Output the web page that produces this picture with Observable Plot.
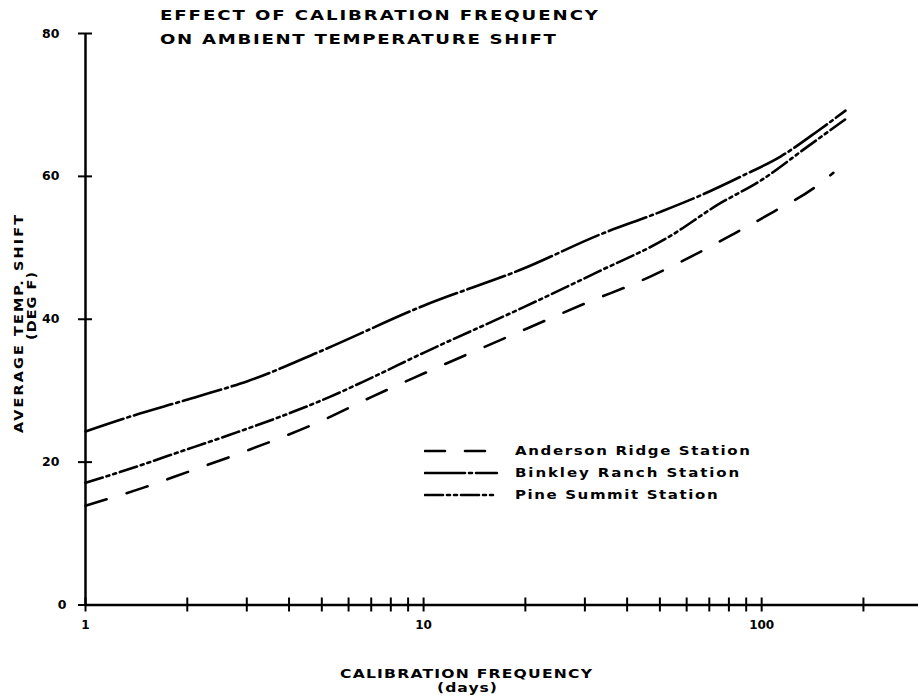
<!DOCTYPE html>
<html>
<head>
<meta charset="utf-8">
<script src="https://cdn.jsdelivr.net/npm/d3@7"></script>
<script src="https://cdn.jsdelivr.net/npm/@observablehq/plot@0.6"></script>
<style>
  body { margin: 0; background: #fff; }
  #wrap { position: relative; width: 918px; height: 696px; font-family: "DejaVu Sans", sans-serif; font-weight: bold; color: #000; overflow: hidden; }
  .abs { position: absolute; white-space: nowrap; }
</style>
</head>
<body>
<div id="wrap"></div>
<script>
// ---- data ----
const andersonX = [1, 1.5, 2, 3, 5, 7, 10, 20, 30, 47, 62, 83, 109, 143, 163];
const andersonY = [13.9, 16.5, 18.6, 21.6, 25.8, 29.1, 32.4, 38.6, 42.2, 46.0, 48.8, 52.0, 55.1, 58.4, 60.5];

const binkleyX = [1, 1.34, 1.89, 2.66, 3, 5, 10, 20, 33, 50, 65, 87, 114, 148, 177];
const binkleyY = [24.3, 26.3, 28.4, 30.5, 31.3, 35.6, 41.9, 47.2, 51.8, 55.0, 57.2, 60.0, 62.8, 66.5, 69.2];

const pineX = [1, 1.34, 1.89, 2.66, 3.74, 5.26, 6.59, 10, 20, 33, 52.6, 74, 100, 137, 177];
const pineY = [17.1, 19.0, 21.4, 23.8, 26.3, 29.1, 31.2, 35.3, 41.8, 46.7, 51.4, 56.0, 59.5, 64.2, 68.0];

const seriesNames = ["Anderson Ridge Station", "Binkley Ranch Station", "Pine Summit Station"];
const xTicks = [1, 2, 3, 4, 5, 6, 7, 8, 9, 10, 20, 30, 40, 50, 60, 70, 80, 90, 100, 200];
const xTickLabels = [1, 10, 100];
const yTicks = [0, 20, 40, 60, 80];

const titleLines = ["EFFECT OF CALIBRATION FREQUENCY", "ON AMBIENT TEMPERATURE SHIFT"];
const xLabelLines = ["CALIBRATION FREQUENCY", "(days)"];
const yLabelLines = ["AVERAGE TEMP. SHIFT", "(DEG F)"];

// styles
const dashes = ["22,21", "40,4,3,4", "18,4,3,4,3,4"];

const toRows = (xs, ys) => xs.map((x, i) => ({x, y: ys[i]}));
const series = [toRows(andersonX, andersonY), toRows(binkleyX, binkleyY), toRows(pineX, pineY)];

const fontFam = "DejaVu Sans, sans-serif";

const plot = Plot.plot({
  width: 918,
  height: 696,
  marginLeft: 85,
  marginRight: 0,
  marginTop: 33,
  marginBottom: 91.5,
  style: {fontFamily: fontFam, fontWeight: "bold", background: "white", color: "black"},
  x: {type: "log", domain: [1, 291]},
  y: {domain: [0, 80]},
  marks: [
    // crossing tick marks
    Plot.axisX({ticks: xTicks, tickSize: 14, dy: -7, tickFormat: () => "", strokeWidth: 2, label: null}),
    Plot.axisY({ticks: yTicks, tickSize: 14, dx: 7, tickFormat: () => "", strokeWidth: 2, label: null}),
    // tick labels
    Plot.axisX({ticks: xTickLabels, tickSize: 0, tickPadding: 15, tickFormat: d => String(d), fontSize: 12, label: null}),
    Plot.axisY({ticks: yTicks.filter(d => d > 0), tickSize: 0, tickPadding: 26, tickFormat: d => String(d), fontSize: 12.5, label: null}),
    Plot.axisY({ticks: [0], tickSize: 0, tickPadding: 19, tickFormat: d => String(d), fontSize: 12.5, label: null}),
    // axis lines
    Plot.ruleY([0], {strokeWidth: 2.5}),
    Plot.ruleX([1], {y1: 0, y2: 80, strokeWidth: 2.5}),
    // series
    ...series.map((data, i) => Plot.line(data, {x: "x", y: "y", curve: "monotone-x", stroke: "black", strokeWidth: 2.6, strokeDasharray: dashes[i], strokeLinecap: "round"}))
  ]
});

const wrap = document.getElementById("wrap");
wrap.appendChild(plot);

// text helper: fits text to a target width via horizontal stretch + letter-spacing
function label(text, {x, y, size, width, stretch = 1.15, anchor = "start", rotate = false}) {
  const d = document.createElement("div");
  d.className = "abs";
  d.textContent = text;
  d.style.fontSize = size + "px";
  d.style.lineHeight = "1";
  wrap.appendChild(d);
  const natural = d.getBoundingClientRect().width;
  const n = text.length;
  const ls = Math.max(0, (width / stretch - natural) / (n - 1));
  d.style.letterSpacing = ls + "px";
  const W = natural + ls * (n - 1); // unscaled visible width
  const h = size;
  if (!rotate) {
    const vis = W * stretch;
    const left = anchor === "middle" ? x - vis / 2 : x;
    d.style.left = left + "px";
    d.style.top = (y - 0.48 * h) + "px";
    d.style.transformOrigin = "0 0";
    d.style.transform = `scaleX(${stretch})`;
  } else {
    d.style.width = (W + ls + 2) + "px";
    d.style.left = (x - W / 2) + "px";
    d.style.top = (y - 0.5 * h) + "px";
    d.style.transformOrigin = (W / 2) + "px " + (0.5 * h) + "px";
    d.style.transform = `rotate(-90deg) scaleX(${stretch})`;
  }
  return d;
}

label(titleLines[0], {x: 160, y: 14.5, size: 14.5, width: 438, stretch: 1.25});
label(titleLines[1], {x: 160, y: 38.5, size: 14.5, width: 396, stretch: 1.25});
label(xLabelLines[0], {x: 466, y: 673, size: 13, width: 252, anchor: "middle", stretch: 1.2});
label(xLabelLines[1], {x: 467, y: 687, size: 13, width: 60, anchor: "middle", stretch: 1.2});
label(yLabelLines[0], {x: 19, y: 324, size: 12, width: 218, rotate: true, stretch: 1.2});
label(yLabelLines[1], {x: 32, y: 306, size: 12, width: 68, rotate: true, stretch: 1.2});

// legend
const ns = "http://www.w3.org/2000/svg";
const rowsY = [451, 473, 495];
seriesNames.forEach((name, i) => {
  const svg = document.createElementNS(ns, "svg");
  svg.setAttribute("width", 74);
  svg.setAttribute("height", 8);
  svg.style.position = "absolute";
  svg.style.left = "424px";
  svg.style.top = (rowsY[i] - 4) + "px";
  const ln = document.createElementNS(ns, "line");
  ln.setAttribute("x1", 1); ln.setAttribute("x2", 73);
  ln.setAttribute("y1", 4); ln.setAttribute("y2", 4);
  ln.setAttribute("stroke", "black");
  ln.setAttribute("stroke-width", 2.6);
  ln.setAttribute("stroke-linecap", "round");
  ln.setAttribute("stroke-dasharray", i === 0 ? "20,20" : dashes[i]);
  svg.appendChild(ln);
  wrap.appendChild(svg);
  const perChar = 237 / 22;
  label(name, {x: 515, y: rowsY[i], size: 12.5, width: perChar * name.length - 2, stretch: 1.2});
});
</script>
</body>
</html>
